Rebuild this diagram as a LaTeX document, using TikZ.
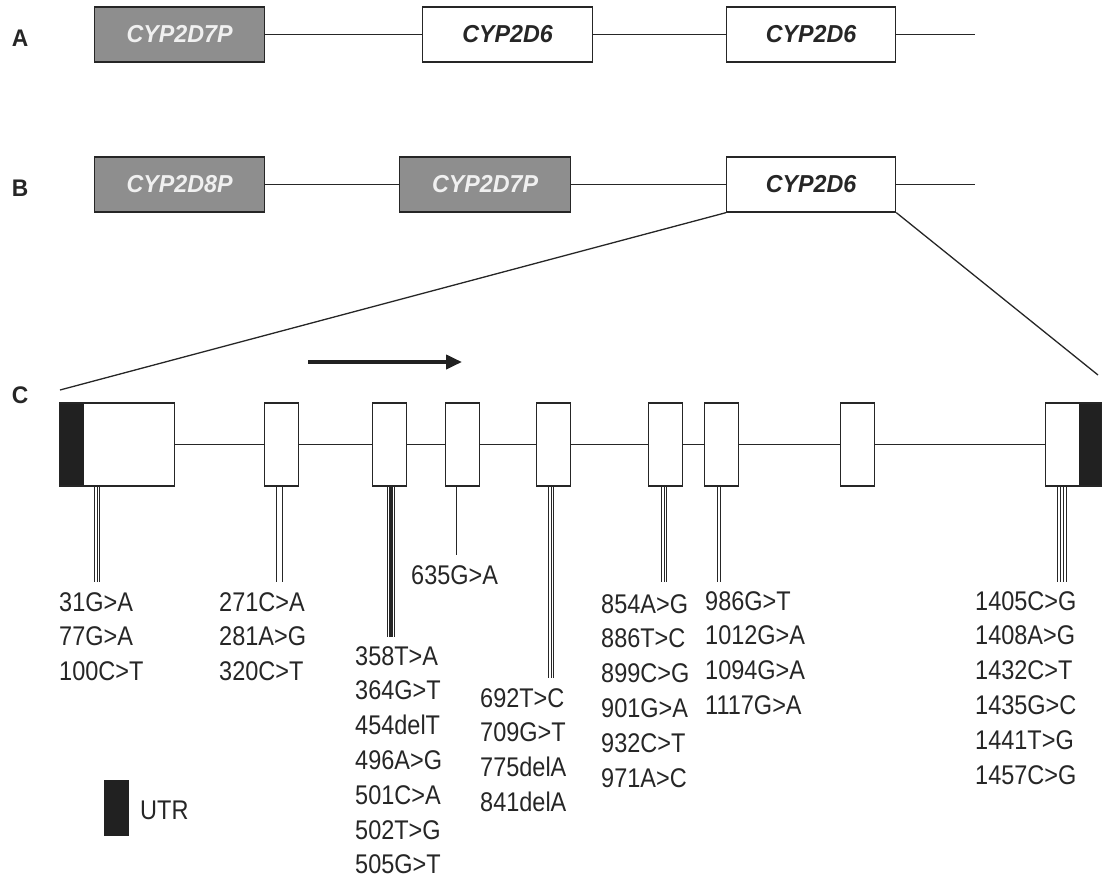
\documentclass[tikz,border=0pt]{standalone}
\usepackage{fontspec}
\setmainfont{Liberation Sans}
\newfontfamily\mutfont[FakeStretch=0.87]{Liberation Sans}
\newfontfamily\genefont[FakeStretch=0.95]{Liberation Sans}
\usetikzlibrary{calc,arrows.meta}
\definecolor{boxgray}{RGB}{142,142,142}
\definecolor{ink}{RGB}{38,38,38}
\definecolor{utr}{RGB}{33,33,33}
\newcommand\vlines[3]{\foreach \d in {#3}{\draw[conn] ($(#2 |- #1.south)+(\d,0)$) -- ($(#2)+(\d,0)$);}}
\begin{document}
\begin{tikzpicture}[x=1pt,y=-1pt,
  gene/.style={draw=ink, line width=1.3pt, minimum height=55pt, inner sep=0pt, anchor=west,
    font=\genefont\fontsize{24.5}{24.5}\selectfont\bfseries\itshape},
  pseudo/.style={gene, fill=boxgray, text=white!94!black},
  func/.style={gene, fill=white, text=ink},
  exon/.style={draw=ink, line width=1.2pt, fill=white, minimum height=83pt, inner sep=0pt, anchor=west},
  intron/.style={draw=ink, line width=1.3pt},
  conn/.style={draw=ink, line width=0.9pt},
  mut/.style={anchor=north west, inner sep=0pt, align=left, text=ink,
    font=\mutfont\fontsize{27}{34.8}\selectfont},
  lab/.style={inner sep=0pt, text=ink, font=\genefont\fontsize{24}{24}\selectfont\bfseries},
]
\useasboundingbox (0,0) rectangle (1105,878);

% row labels
\node[lab] (lA) at (20,38) {A};
\node[lab] (lB) at (20,188) {B};
\node[lab] (lC) at (20,395) {C};

% row A
\node[pseudo, minimum width=170pt] (a1) at (94,34.5) {CYP2D7P};
\node[func, minimum width=170pt] (a2) at (422,34.5) {CYP2D6};
\node[func, minimum width=169pt] (a3) at (726,34.5) {CYP2D6};
\coordinate (aend) at (975,34.5);
\draw[intron] (a1.east) -- (a2.west);
\draw[intron] (a2.east) -- (a3.west);
\draw[intron] (a3.east) -- (aend);

% row B
\node[pseudo, minimum width=170pt] (b1) at (94,184.5) {CYP2D8P};
\node[pseudo, minimum width=171pt] (b2) at (399,184.5) {CYP2D7P};
\node[func, minimum width=169pt] (b3) at (726,184.5) {CYP2D6};
\coordinate (bend) at (975,184.5);
\draw[intron] (b1.east) -- (b2.west);
\draw[intron] (b2.east) -- (b3.west);
\draw[intron] (b3.east) -- (bend);

% zoom lines
\coordinate (zl) at (60,390);
\coordinate (zr) at (1098,375);
\draw[intron] (b3.south west) -- (zl);
\draw[intron] (b3.south east) -- (zr);

% direction arrow
\coordinate (arS) at (308,362);
\coordinate (arE) at (462,362);
\draw[draw=utr, line width=3.8pt, -{Triangle[length=16pt,width=14pt]}] (arS) -- (arE);

% exons
\node[exon, minimum width=115pt,
  path picture={\fill[utr] (path picture bounding box.north west) rectangle ([xshift=24pt]path picture bounding box.south west);}]
  (e1) at (59,444.5) {};
\node[exon, minimum width=34pt] (e2) at (264,444.5) {};
\node[exon, minimum width=34pt] (e3) at (372,444.5) {};
\node[exon, minimum width=34pt] (e4) at (445,444.5) {};
\node[exon, minimum width=34pt] (e5) at (536,444.5) {};
\node[exon, minimum width=34pt] (e6) at (648,444.5) {};
\node[exon, minimum width=34pt] (e7) at (704,444.5) {};
\node[exon, minimum width=34pt] (e8) at (840,444.5) {};
\node[exon, minimum width=56pt,
  path picture={\fill[utr] ([xshift=-23pt]path picture bounding box.north east) rectangle (path picture bounding box.south east);}]
  (e9) at (1045,444.5) {};
\draw[intron] (e1.east) -- (e2.west);
\draw[intron] (e2.east) -- (e3.west);
\draw[intron] (e3.east) -- (e4.west);
\draw[intron] (e4.east) -- (e5.west);
\draw[intron] (e5.east) -- (e6.west);
\draw[intron] (e6.east) -- (e7.west);
\draw[intron] (e7.east) -- (e8.west);
\draw[intron] (e8.east) -- (e9.west);

% mutation connectors
\coordinate (k1) at (97,582);
\coordinate (k2) at (279,582);
\coordinate (k3) at (391,637);
\coordinate (k4) at (456,555);
\coordinate (k5) at (551,678);
\coordinate (k6) at (664,582);
\coordinate (k7) at (719,582);
\coordinate (k9) at (1062,582);
\vlines{e1}{k1}{-2.3,0,2.3}
\vlines{e2}{k2}{-3,3}
\vlines{e3}{k3}{-3.4,-1.4,-0.3,0.8,1.9,3.0}
\vlines{e4}{k4}{0}
\vlines{e5}{k5}{-2.6,0,2.6}
\vlines{e6}{k6}{-2.8,0,2.8}
\vlines{e7}{k7}{-1.3,1.3}
\vlines{e9}{k9}{-4.5,-1.5,1.5,4.5}

% mutation labels
\node[mut] (m1) at (59,592) {31G>A\\77G>A\\100C>T};
\node[mut] (m2) at (219,592) {271C>A\\281A>G\\320C>T};
\node[mut] (m3) at (355,646) {358T>A\\364G>T\\454delT\\496A>G\\501C>A\\502T>G\\505G>T};
\node[mut] (m4) at (411,565) {635G>A};
\node[mut] (m5) at (480,688) {692T>C\\709G>T\\775delA\\841delA};
\node[mut] (m6) at (601,594) {854A>G\\886T>C\\899C>G\\901G>A\\932C>T\\971A>C};
\node[mut] (m7) at (705,591) {986G>T\\1012G>A\\1094G>A\\1117G>A};
\node[mut] (m9) at (975,591) {1405C>G\\1408A>G\\1432C>T\\1435G>C\\1441T>G\\1457C>G};

% legend
\node[draw=none, fill=utr, minimum width=25pt, minimum height=56pt, inner sep=0pt] (leg) at (116.5,808) {};
\node[anchor=west, inner sep=0pt, text=ink, font=\mutfont\fontsize{27}{27}\selectfont] (legt) at (140,810) {UTR};
\end{tikzpicture}
\end{document}
